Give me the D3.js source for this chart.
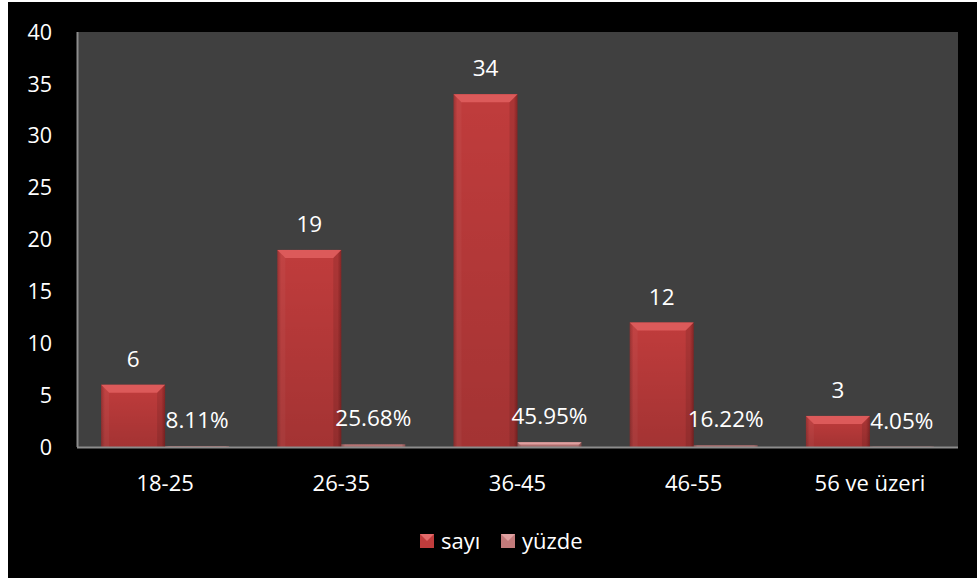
<!DOCTYPE html>
<html><head><meta charset="utf-8">
<script src="https://cdn.jsdelivr.net/npm/d3@7"></script>
<style>
html,body{margin:0;padding:0;background:#fff;}
svg{display:block;font-family:"Open Sans","Noto Sans",sans-serif;}
</style></head>
<body>
<svg id="c" width="977" height="578"></svg>
<script>
const categories = ["18-25","26-35","36-45","46-55","56 ve üzeri"];
const sayi = [6,19,34,12,3];
const yuzde = [0.0811,0.2568,0.4595,0.1622,0.0405];
const seriesNames = ["sayı","yüzde"];
const yTicks = [0,5,10,15,20,25,30,35,40];

const svg = d3.select("#c");
const W=977,H=578;
const plot={l:77,t:32,r:958,b:447};

svg.append("rect").attr("x",8).attr("y",2).attr("width",W-8).attr("height",H-2).attr("fill","#000");
svg.append("rect").attr("x",plot.l).attr("y",plot.t).attr("width",plot.r-plot.l).attr("height",plot.b-plot.t).attr("fill","#404040");

const x = d3.scaleBand().domain(categories).range([plot.l,plot.r]).paddingInner(0).paddingOuter(0);
const bw = x.bandwidth()*128/176.2/2;
const x1 = d3.scaleBand().domain([0,1]).range([0,2*bw]);
const y = d3.scaleLinear().domain([0,40]).range([plot.b,plot.t]);

const defs = svg.append("defs");
function grads(id, mid, edge){
  const g = defs.append("linearGradient").attr("id",id).attr("x1","0").attr("x2","1").attr("y1","0").attr("y2","0");
  g.append("stop").attr("offset","0").attr("stop-color",edge);
  g.append("stop").attr("offset","0.06").attr("stop-color",mid);
  g.append("stop").attr("offset","0.94").attr("stop-color",mid);
  g.append("stop").attr("offset","1").attr("stop-color",edge);
  const v = defs.append("linearGradient").attr("id",id+"v").attr("x1","0").attr("x2","0").attr("y1","0").attr("y2","1");
  v.append("stop").attr("offset","0").attr("stop-color","#000").attr("stop-opacity",0);
  v.append("stop").attr("offset","1").attr("stop-color","#000").attr("stop-opacity",0.15);
}
grads("gS","#c03c3c","#962a2a");
grads("gY","#c27a7a","#955555");

const series = [
  {name:seriesNames[0], vals:sayi, fill:"url(#gS)", top:"#dc5a5a", fmt:d=>String(d)},
  {name:seriesNames[1], vals:yuzde, fill:"url(#gY)", top:"#dfa0a0", fmt:d=>(d*100).toFixed(2)+"%"}
];

series.forEach((s,si)=>{
  const g = svg.append("g");
  categories.forEach((c,i)=>{
    const v = s.vals[i];
    const x0 = x(c) + (x.bandwidth()-2*bw)/2 + x1(si);
    const yt = y(v), h = plot.b - yt;
    g.append("rect").attr("x",x0).attr("y",yt).attr("width",bw).attr("height",h).attr("fill",s.fill);
    g.append("rect").attr("x",x0).attr("y",yt).attr("width",bw).attr("height",h).attr("fill",s.fill.replace(")","v)"));
    const bev = Math.min(8,h/2);
    if(h>3){
      g.append("path").attr("d",`M${x0},${yt}L${x0+bw},${yt}L${x0+bw-bev},${yt+bev}L${x0+bev},${yt+bev}Z`).attr("fill",s.top);
      g.append("path").attr("d",`M${x0},${yt}L${x0+bev},${yt+bev}L${x0+bev},${plot.b}L${x0},${plot.b}Z`).attr("fill","#fff").attr("opacity",0.04);
      g.append("path").attr("d",`M${x0+bw},${yt}L${x0+bw-bev},${yt+bev}L${x0+bw-bev},${plot.b}L${x0+bw},${plot.b}Z`).attr("fill","#000").attr("opacity",0.1);
    }
    svg.append("text").attr("x",x0+bw/2).attr("y",yt-26).attr("dy","0.36em")
      .attr("text-anchor","middle").attr("fill","#fff").attr("font-size",22.5).text(s.fmt(v));
  });
});

svg.append("line").attr("x1",plot.l).attr("x2",plot.r).attr("y1",plot.b+0.5).attr("y2",plot.b+0.5).attr("stroke","#8c8c8c").attr("stroke-width",2);
svg.append("line").attr("x1",plot.l+0.5).attr("x2",plot.l+0.5).attr("y1",plot.t).attr("y2",plot.b).attr("stroke","#8c8c8c").attr("stroke-width",2);

svg.append("g").selectAll("text").data(yTicks).join("text")
  .attr("x",52).attr("y",d=>y(d)).attr("dy","0.36em").attr("text-anchor","end")
  .attr("fill","#fff").attr("font-size",21.5).text(d=>d);

svg.append("g").selectAll("text").data(categories).join("text")
  .attr("x",d=>x(d)+x.bandwidth()/2).attr("y",483).attr("dy","0.36em").attr("text-anchor","middle")
  .attr("fill","#fff").attr("font-size",22).text(d=>d);

const leg = [{n:seriesNames[0],c:"#c03c3c",t:"#e36a6a",x:420,tx:441},{n:seriesNames[1],c:"#c27a7a",t:"#dfa0a0",x:501,tx:522}];
leg.forEach(l=>{
  svg.append("rect").attr("x",l.x).attr("y",534).attr("width",14).attr("height",14).attr("fill",l.c);
  svg.append("path").attr("d",`M${l.x},534L${l.x+14},534L${l.x+7},541Z`).attr("fill",l.t);
  svg.append("text").attr("x",l.tx).attr("y",541).attr("dy","0.36em").attr("fill","#fff").attr("font-size",22).text(l.n);
});
</script>
</body></html>
